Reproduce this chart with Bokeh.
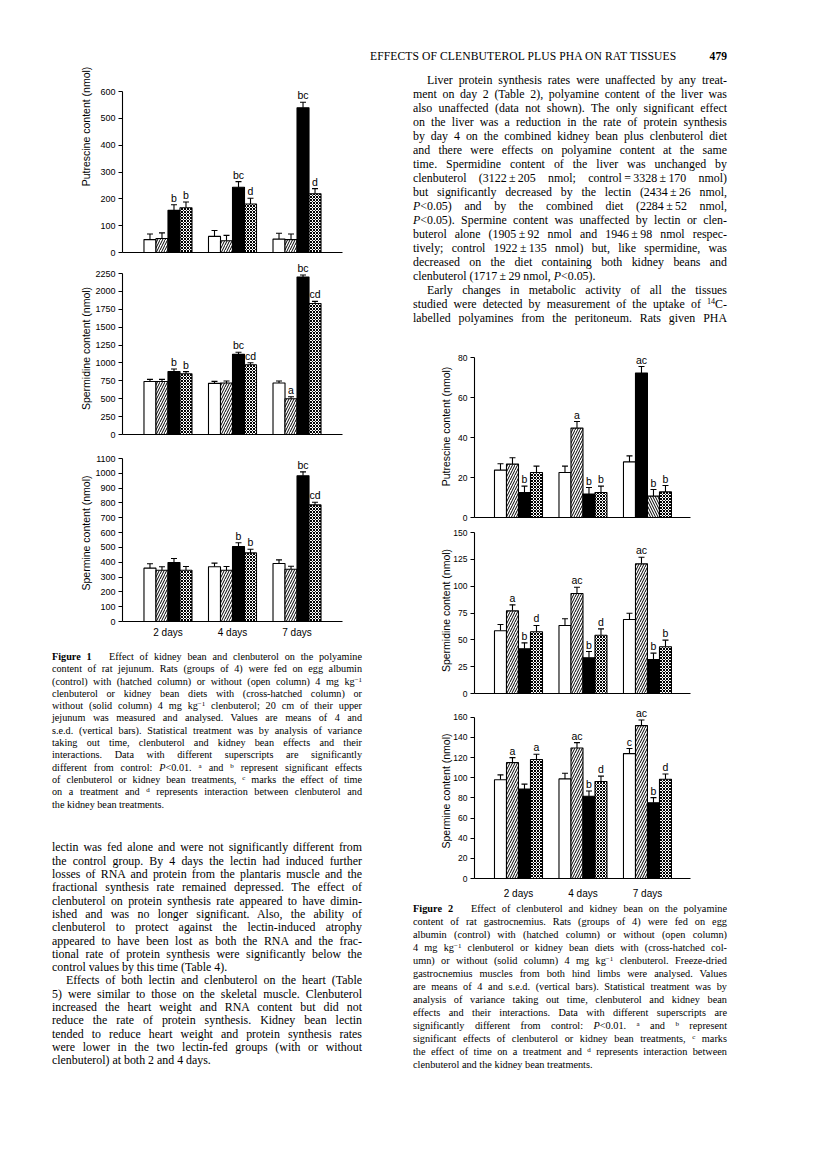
from bokeh.plotting import figure
from bokeh.layouts import row, column
from bokeh.models import Div, Range1d, FixedTicker, ColumnDataSource, Whisker, TeeHead
from bokeh.core.properties import value
from bokeh.embed import file_html
from bokeh.resources import INLINE

DAYS = ["2 days", "4 days", "7 days"]
# bar order within a group: open (control), hatched (clenbuterol), solid (kidney bean), cross-hatched (kidney bean + clenbuterol)

# ---- Figure 1: rat jejunum ----
F1_PUT = [[48, 52, 157, 167], [60, 44, 243, 181], [50, 48, 539, 219]]
F1_PUT_SED = [[21, 21, 21, 21], [22, 20, 21, 21], [22, 21, 21, 19]]
F1_PUT_SIG = [["", "", "b", "b"], ["", "", "bc", "d"], ["", "", "bc", "d"]]

F1_SPD = [[740, 740, 880, 850], [715, 720, 1120, 975], [720, 500, 2200, 1830]]
F1_SPD_SED = [[30, 30, 35, 28], [28, 28, 30, 28], [28, 28, 28, 30]]
F1_SPD_SIG = [["", "", "b", "b"], ["", "", "bc", "cd"], ["", "a", "bc", "cd"]]

F1_SPM = [[360, 346, 398, 346], [369, 346, 506, 463], [391, 353, 983, 787]]
F1_SPM_SED = [[30, 23, 27, 25], [25, 25, 25, 25], [25, 20, 27, 18]]
F1_SPM_SIG = [["", "", "", ""], ["", "", "b", "b"], ["", "", "bc", "cd"]]

# ---- Figure 2: rat gastrocnemius ----
F2_PUT = [[23.7, 26.7, 12.5, 22.5], [22.5, 44.7, 11.7, 12.5], [27.8, 72.2, 10.7, 12.8]]
F2_PUT_SED = [[3.2, 3.2, 3.2, 3.2], [3.2, 3.3, 3.3, 3.2], [3.0, 3.3, 3.3, 3.2]]
F2_PUT_SIG = [["", "", "b", ""], ["", "a", "b", "b"], ["", "ac", "b", "b"]]
# in the printed figure the 7-day solid and hatched columns are swapped
F2_PUT_STYLE = [["open", "hatch", "solid", "cross"], ["open", "hatch", "solid", "cross"],
                ["open", "solid", "hatch_rev", "cross"]]

F2_SPD = [[58.4, 77.0, 41.6, 57.5], [63.4, 93.2, 33.2, 54.3], [68.9, 120.8, 31.7, 43.5]]
F2_SPD_SED = [[5.9, 5.6, 5.6, 5.9], [6.2, 5.8, 5.9, 5.9], [5.9, 6.2, 5.9, 6.2]]
F2_SPD_SIG = [["", "a", "b", "d"], ["", "ac", "b", "d"], ["", "ac", "b", "b"]]

F2_SPM = [[98.0, 115.0, 88.8, 118.2], [98.9, 129.6, 81.6, 96.3], [124.0, 151.8, 75.1, 98.6]]
F2_SPM_SED = [[4.9, 5.0, 4.9, 5.2], [5.6, 5.3, 5.3, 5.3], [5.0, 5.6, 5.2, 5.2]]
F2_SPM_SIG = [["", "a", "", "a"], ["", "ac", "b", "d"], ["c", "ac", "b", "d"]]

DEFAULT_STYLE = [["open", "hatch", "solid", "cross"]] * 3

STYLES = {
    "open": dict(fill="white", hatch=" ", scale=4),
    "hatch": dict(fill="white", hatch="/", scale=5),
    "hatch_rev": dict(fill="white", hatch="\\", scale=5),
    "solid": dict(fill="black", hatch=" ", scale=4),
    "cross": dict(fill="white", hatch="x", scale=3),
}

SANS = "Liberation Sans"
SANS_V = value(SANS)
SERIF = "'Liberation Serif','Times New Roman',serif"

BAR_W = 12 / 64.5


def make_panel(vals, seds, sigs, styles, ylabel, ymax, ystep, geo, show_x):
    frame_h = geo["height"] - geo["bottom"]
    px_per_unit = (geo["y0"] - geo["ytop"]) / ymax
    y_end = frame_h / px_per_unit
    p = figure(width=geo["width"], height=geo["height"],
               x_range=Range1d(geo["xs"], geo["xe"]), y_range=Range1d(0, y_end),
               output_backend="svg", toolbar_location=None,
               min_border_left=geo["left"], min_border_right=geo["right"],
               min_border_top=0, min_border_bottom=geo["bottom"])
    p.outline_line_color = None
    p.xgrid.visible = False
    p.ygrid.visible = False
    p.background_fill_color = "white"
    p.border_fill_color = "white"

    xs, tops, errs, fills, hatches, scales, labels = [], [], [], [], [], [], []
    for g in range(3):
        for j in range(4):
            st = STYLES[styles[g][j]]
            xs.append(g + (j - 1.5) * BAR_W)
            tops.append(vals[g][j])
            errs.append(vals[g][j] + seds[g][j])
            fills.append(st["fill"])
            hatches.append(st["hatch"])
            scales.append(st["scale"])
            labels.append(sigs[g][j])
    src = ColumnDataSource(dict(x=xs, top=tops, err=errs, fill=fills, hatch=hatches,
                                scale=scales, label=labels))
    p.vbar(x="x", top="top", width=BAR_W, bottom=0, source=src, fill_color="fill",
           line_color="black", line_width=1.1, hatch_pattern="hatch", hatch_scale="scale",
           hatch_color="black", hatch_weight=1.0)
    w = Whisker(source=src, base="x", lower="top", upper="err", line_color="black",
                line_width=1.1, lower_head=None,
                upper_head=TeeHead(size=6, line_color="black", line_width=1.1))
    p.add_layout(w)
    p.text(x="x", y="err", text="label", source=src, text_align="center",
           text_baseline="bottom", y_offset=-1, text_font_size="10.5px",
           text_font=SANS_V, text_color="black")

    ya = p.yaxis[0]
    ya.ticker = FixedTicker(ticks=list(range(0, int(ymax) + 1, ystep)))
    ya.bounds = (0, ymax)
    ya.major_tick_out = 4
    ya.major_tick_in = 0
    ya.minor_tick_out = 0
    ya.minor_tick_in = 0
    ya.major_label_standoff = 3
    ya.major_label_text_font = SANS
    ya.major_label_text_font_size = geo["tick_fs"]
    ya.major_label_text_color = "black"
    ya.axis_line_color = "black"
    ya.axis_line_width = 1.1
    ya.major_tick_line_width = 1.1
    ya.axis_label = ylabel
    ya.axis_label_text_font = SANS
    ya.axis_label_text_font_size = "10.5px"
    ya.axis_label_text_font_style = "normal"
    ya.axis_label_text_color = "black"
    digits = len(str(int(ymax)))
    ya.axis_label_standoff = int(geo["lab_off"] - (4 + 3 + digits * 5 + 6))

    xa = p.xaxis[0]
    xa.axis_line_color = "black"
    xa.axis_line_width = 1.1
    xa.major_tick_out = 0
    xa.major_tick_in = 0
    xa.minor_tick_out = 0
    xa.minor_tick_in = 0
    if show_x:
        xa.ticker = FixedTicker(ticks=[0, 1, 2])
        xa.major_label_overrides = {0: DAYS[0], 1: DAYS[1], 2: DAYS[2]}
        xa.major_label_text_font = SANS
        xa.major_label_text_font_size = "10px"
        xa.major_label_text_color = "black"
        xa.major_label_standoff = geo["xstand"]
    else:
        xa.ticker = FixedTicker(ticks=[])
        xa.major_label_standoff = 0
    return p


# ---- geometry (page pixels, layout starts at 0,0) ----
LEFT_W = 365
RIGHT_W = 443

g1 = dict(width=LEFT_W, left=122, right=23, xs=-0.705, xe=2.705, tick_fs="9px", lab_off=33, xstand=5)
f1p1 = make_panel(F1_PUT, F1_PUT_SED, F1_PUT_SIG, DEFAULT_STYLE, "Putrescine content (nmol)", 600, 100,
                  dict(g1, height=262, bottom=10, y0=252, ytop=91), False)
f1p2 = make_panel(F1_SPD, F1_SPD_SED, F1_SPD_SIG, DEFAULT_STYLE, "Spermidine content (nmol)", 2250, 250,
                  dict(g1, height=182, bottom=10, y0=172, ytop=11), False)
f1p3 = make_panel(F1_SPM, F1_SPM_SED, F1_SPM_SIG, DEFAULT_STYLE, "Spermine content (nmol)", 1100, 100,
                  dict(g1, height=201, bottom=24, y0=177, ytop=14), True)

g2 = dict(width=RIGHT_W, left=109, right=118, xs=-0.682, xe=2.667, tick_fs="8.5px", lab_off=26, xstand=9)
f2p1 = make_panel(F2_PUT, F2_PUT_SED, F2_PUT_SIG, F2_PUT_STYLE, "Putrescine content (nmol)", 80, 20,
                  dict(g2, height=192, bottom=10, y0=182, ytop=22), False)
f2p2 = make_panel(F2_SPD, F2_SPD_SED, F2_SPD_SIG, DEFAULT_STYLE, "Spermidine content (nmol)", 150, 25,
                  dict(g2, height=176, bottom=10, y0=166, ytop=5), False)
f2p3 = make_panel(F2_SPM, F2_SPM_SED, F2_SPM_SIG, DEFAULT_STYLE, "Spermine content (nmol)", 160, 20,
                  dict(g2, height=198, bottom=21, y0=177, ytop=14), True)

# ---- text ----
SUP = '<sup style="font-size:0.68em;line-height:0;vertical-align:0.5em">{}</sup>'
KG = '4&nbsp;mg&nbsp;kg' + SUP.format('&minus;1')

CAP1 = [
    '<b>Figure 1</b>&nbsp;&nbsp; Effect of kidney bean and clenbuterol on the polyamine',
    'content of rat jejunum. Rats (groups of 4) were fed on egg albumin',
    '(control) with (hatched column) or without (open column) ' + KG,
    'clenbuterol or kidney bean diets with (cross-hatched column) or',
    'without (solid column) ' + KG + ' clenbuterol; 20&nbsp;cm of their upper',
    'jejunum was measured and analysed. Values are means of 4 and',
    's.e.d. (vertical bars). Statistical treatment was by analysis of variance',
    'taking out time, clenbuterol and kidney bean effects and their',
    'interactions. Data with different superscripts are significantly',
    'different from control: <i>P</i>&lt;0.01. ' + SUP.format('a') + ' and ' + SUP.format('b') + ' represent significant effects',
    'of clenbuterol or kidney bean treatments, ' + SUP.format('c') + ' marks the effect of time',
    'on a treatment and ' + SUP.format('d') + ' represents interaction between clenbuterol and',
    'the kidney bean treatments.',
]

BODY1 = [
    'lectin was fed alone and were not significantly different from',
    'the control group. By 4 days the lectin had induced further',
    'losses of RNA and protein from the plantaris muscle and the',
    'fractional synthesis rate remained depressed. The effect of',
    'clenbuterol on protein synthesis rate appeared to have dimin-',
    'ished and was no longer significant. Also, the ability of',
    'clenbuterol to protect against the lectin-induced atrophy',
    'appeared to have been lost as both the RNA and the frac-',
    'tional rate of protein synthesis were significantly below the',
    'control values by this time (Table 4).',
    'Effects of both lectin and clenbuterol on the heart (Table',
    '5) were similar to those on the skeletal muscle. Clenbuterol',
    'increased the heart weight and RNA content but did not',
    'reduce the rate of protein synthesis. Kidney bean lectin',
    'tended to reduce heart weight and protein synthesis rates',
    'were lower in the two lectin-fed groups (with or without',
    'clenbuterol) at both 2 and 4 days.',
]

BODY2 = [
    'Liver protein synthesis rates were unaffected by any treat-',
    'ment on day 2 (Table 2), polyamine content of the liver was',
    'also unaffected (data not shown). The only significant effect',
    'on the liver was a reduction in the rate of protein synthesis',
    'by day 4 on the combined kidney bean plus clenbuterol diet',
    'and there were effects on polyamine content at the same',
    'time. Spermidine content of the liver was unchanged by',
    'clenbuterol (3122&thinsp;&plusmn;&thinsp;205&nbsp;nmol; control&thinsp;=&thinsp;3328&thinsp;&plusmn;&thinsp;170 nmol)',
    'but significantly decreased by the lectin (2434&thinsp;&plusmn;&thinsp;26&nbsp;nmol,',
    '<i>P</i>&lt;0.05) and by the combined diet (2284&thinsp;&plusmn;&thinsp;52 nmol,',
    '<i>P</i>&lt;0.05). Spermine content was unaffected by lectin or clen-',
    'buterol alone (1905&thinsp;&plusmn;&thinsp;92&nbsp;nmol and 1946&thinsp;&plusmn;&thinsp;98&nbsp;nmol respec-',
    'tively; control 1922&thinsp;&plusmn;&thinsp;135&nbsp;nmol) but, like spermidine, was',
    'decreased on the diet containing both kidney beans and',
    'clenbuterol (1717&thinsp;&plusmn;&thinsp;29&nbsp;nmol, <i>P</i>&lt;0.05).',
    'Early changes in metabolic activity of all the tissues',
    'studied were detected by measurement of the uptake of ' + SUP.format('14') + 'C-',
    'labelled polyamines from the peritoneum. Rats given PHA',
]

CAP2 = [
    '<b>Figure 2</b>&nbsp;&nbsp; Effect of clenbuterol and kidney bean on the polyamine',
    'content of rat gastrocnemius. Rats (groups of 4) were fed on egg',
    'albumin (control) with (hatched column) or without (open column)',
    KG + ' clenbuterol or kidney bean diets with (cross-hatched col-',
    'umn) or without (solid column) ' + KG + ' clenbuterol. Freeze-dried',
    'gastrocnemius muscles from both hind limbs were analysed. Values',
    'are means of 4 and s.e.d. (vertical bars). Statistical treatment was by',
    'analysis of variance taking out time, clenbuterol and kidney bean',
    'effects and their interactions. Data with different superscripts are',
    'significantly different from control: <i>P</i>&lt;0.01. ' + SUP.format('a') + ' and ' + SUP.format('b') + ' represent',
    'significant effects of clenbuterol or kidney bean treatments, ' + SUP.format('c') + ' marks',
    'the effect of time on a treatment and ' + SUP.format('d') + ' represents interaction between',
    'clenbuterol and the kidney bean treatments.',
]

HEADER = 'EFFECTS OF CLENBUTEROL PLUS PHA ON RAT TISSUES'
PAGE_NO = '479'


def lines_html(lines, left, width, first_center, lh, size, last_idx=(), indent_idx=(), indent=14):
    out = []
    for i, t in enumerate(lines):
        top = first_center + i * lh - lh / 2
        ind = indent if i in indent_idx else 0
        last = "left" if i in last_idx else "justify"
        out.append(
            f'<div style="position:absolute;left:{left + ind}px;top:{top:.1f}px;width:{width - ind}px;'
            f'height:{lh}px;line-height:{lh}px;font-size:{size}px;text-align:justify;'
            f'text-align-last:{last};white-space:nowrap;">{t}</div>')
    return "".join(out)


def block(inner, w, h):
    return (f'<div style="position:relative;width:{w}px;height:{h}px;font-family:{SERIF};'
            f'color:#000;overflow:visible;">{inner}</div>')


NOM = (0, 0, 0, 0)

# left column texts (column x from 0; caption block from y=645, body from y=820)
cap1_h = 175
cap1 = Div(text=block(lines_html(CAP1, 52, 310, 12, 12.3, 10.2, last_idx=(12,)), LEFT_W, cap1_h),
           width=LEFT_W, height=cap1_h, margin=NOM)
body1_h = 325
body1 = Div(text=block(lines_html(BODY1, 52, 310, 28, 13.3, 11.9, last_idx=(9, 16), indent_idx=(10,)),
                       LEFT_W, body1_h), width=LEFT_W, height=body1_h, margin=NOM)

# right column (x from 365): header + body (y 0..335)
top_h = 335
header = (f'<div style="position:absolute;left:5px;top:50px;height:14px;line-height:14px;'
          f'font-size:11.6px;white-space:nowrap;letter-spacing:0.1px;">{HEADER}</div>'
          f'<div style="position:absolute;left:340px;width:22px;top:50px;height:14px;line-height:14px;'
          f'font-size:11.6px;font-weight:bold;text-align:right;">{PAGE_NO}</div>')
top_div = Div(text=block(header + lines_html(BODY2, 48, 314, 80, 14.0, 11.9, last_idx=(14,),
                                              indent_idx=(0, 15)), RIGHT_W, top_h),
              width=RIGHT_W, height=top_h, margin=NOM)

# caption 2 block from y=901
cap2_h = 237
cap2 = Div(text=block(lines_html(CAP2, 48, 314, 7, 13.0, 10.3, last_idx=(12,)), RIGHT_W, cap2_h),
           width=RIGHT_W, height=cap2_h, margin=NOM)

left_col = column(f1p1, f1p2, f1p3, cap1, body1, spacing=0, margin=NOM)
right_col = column(top_div, f2p1, f2p2, f2p3, cap2, spacing=0, margin=NOM)
root = row(left_col, right_col, spacing=0, margin=NOM)

open("out.html", "w").write(file_html(root, INLINE))
